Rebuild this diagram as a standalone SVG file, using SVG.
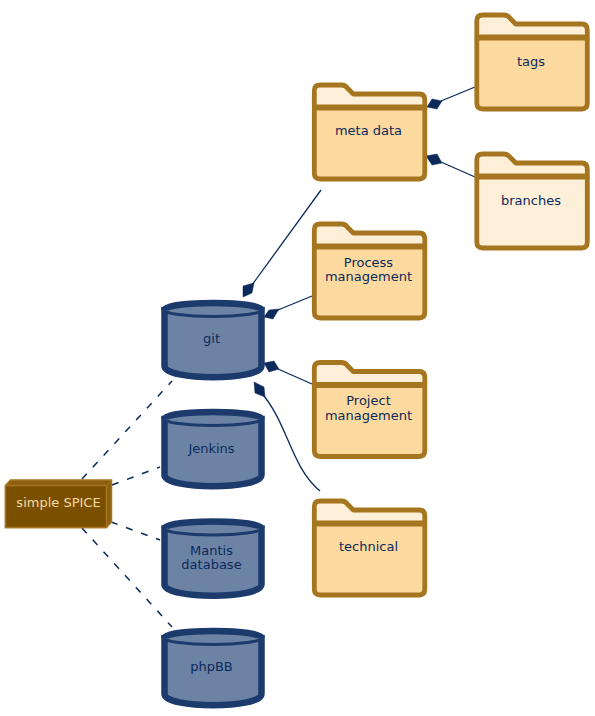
<svg xmlns="http://www.w3.org/2000/svg" width="595" height="716" viewBox="0 0 595 716">
<style>
text{font-family:"DejaVu Sans",sans-serif;font-size:13px;fill:#0b2a5b;text-anchor:middle}
.fb{fill:#fcd99e;stroke:#a5751f;stroke-width:4.800;stroke-linejoin:round}
.ft{fill:#feefd8;stroke:#a5751f;stroke-width:4.800;stroke-linejoin:round}
.cy{fill:#6d83a5;stroke:#1c3a6b;stroke-width:6.500}
.cy2{fill:#6d83a5;stroke:#1c3a6b;stroke-width:3}
.c{fill:none;stroke:#0b2a5b;stroke-width:1.300}
.d{fill:none;stroke:#0b2a5b;stroke-width:1.500;stroke-dasharray:7 9}
.m{fill:#0b2a5b;stroke:#0b2a5b;stroke-width:.5}
</style>
<defs>
<g id="folder">
<path class="ft" d="M0 6Q0 0 6 0H27Q31 0 33 3L39 9H105Q110.500 9 110.500 15V22H0Z"/>
<path class="fb" d="M0 23H110.500V88Q110.500 94 105 94H6Q0 94 0 88Z"/>
</g>
<g id="folderl">
<path class="ft" d="M0 6Q0 0 6 0H27Q31 0 33 3L39 9H105Q110.500 9 110.500 15V22H0Z"/>
<path class="ft" d="M0 23H110.500V88Q110.500 94 105 94H6Q0 94 0 88Z"/>
</g>
<g id="cyl">
<path class="cy" d="M0 8V64C0 79 97 79 97 64V8Z"/>
<ellipse class="cy2" cx="48.500" cy="8" rx="48.500" ry="6.500"/>
<path fill="none" stroke="#1c3a6b" stroke-width="6.500" d="M0 8C0 -1.300 97 -1.300 97 8"/>
</g>
</defs>
<g id="connectors">
<path class="c" d="M321 190L252 285"/><path class="m" d="M254 283L252 293L243 297L243 286Z"/>
<path class="c" d="M312 296L278 310"/><path class="m" d="M264 317L269 310L279 309L273 319Z"/>
<path class="c" d="M312 384L278 369"/><path class="m" d="M264 363L274 361L279 369L269 372Z"/>
<path class="c" d="M320 491C292 468 288 426 264 396"/><path class="m" d="M254 382L264 387L265 397L255 393Z"/>
<path class="c" d="M475 87L441 101"/><path class="m" d="M427 107L432 99L442 101L437 109Z"/>
<path class="c" d="M475 177L441 162"/><path class="m" d="M426 156L437 154L442 163L432 165Z"/>
<path class="d" d="M82 479L172 381"/>
<path class="d" d="M112 485L160 467"/>
<path class="d" d="M111 522L160 540"/>
<path class="d" d="M82 528L172 627"/>
</g>
<g id="simple-spice">
<path d="M5.500 485.500L10.500 480H111.500V522L106.500 527.500H5.500Z" fill="#8a5f10" stroke="#a5751f" stroke-width="1.500"/>
<rect x="5.500" y="485.500" width="101" height="42" fill="#7a4f00" stroke="#a5751f" stroke-width="1.500"/>
<path d="M106.500 485.500L111.500 480.500" stroke="#a5751f" fill="none"/>
<text x="58.500" y="507" style="fill:#f2d9a6">simple SPICE</text>
</g>
<g id="git"><use href="#cyl" x="164.500" y="302"/><text x="211.500" y="343">git</text></g>
<g id="jenkins"><use href="#cyl" x="164.500" y="411"/><text x="211.500" y="453">Jenkins</text></g>
<g id="mantis"><use href="#cyl" x="164.500" y="520.500"/><text x="211.500" y="555">Mantis</text><text x="211.500" y="569">database</text></g>
<g id="phpbb"><use href="#cyl" x="164.500" y="630"/><text x="211.500" y="671">phpBB</text></g>
<g id="meta-data"><use href="#folder" x="314.300" y="85"/><text x="368.500" y="135">meta data</text></g>
<g id="process"><use href="#folder" x="314.300" y="224"/><text x="368.500" y="267">Process</text><text x="368.500" y="281">management</text></g>
<g id="project"><use href="#folder" x="314.300" y="362.500"/><text x="368.500" y="405">Project</text><text x="368.500" y="420">management</text></g>
<g id="technical"><use href="#folder" x="314.300" y="501"/><text x="368.500" y="551">technical</text></g>
<g id="tags"><use href="#folder" x="476.800" y="15"/><text x="531" y="66">tags</text></g>
<g id="branches"><use href="#folderl" x="476.800" y="154"/><text x="531" y="205">branches</text></g>
</svg>
